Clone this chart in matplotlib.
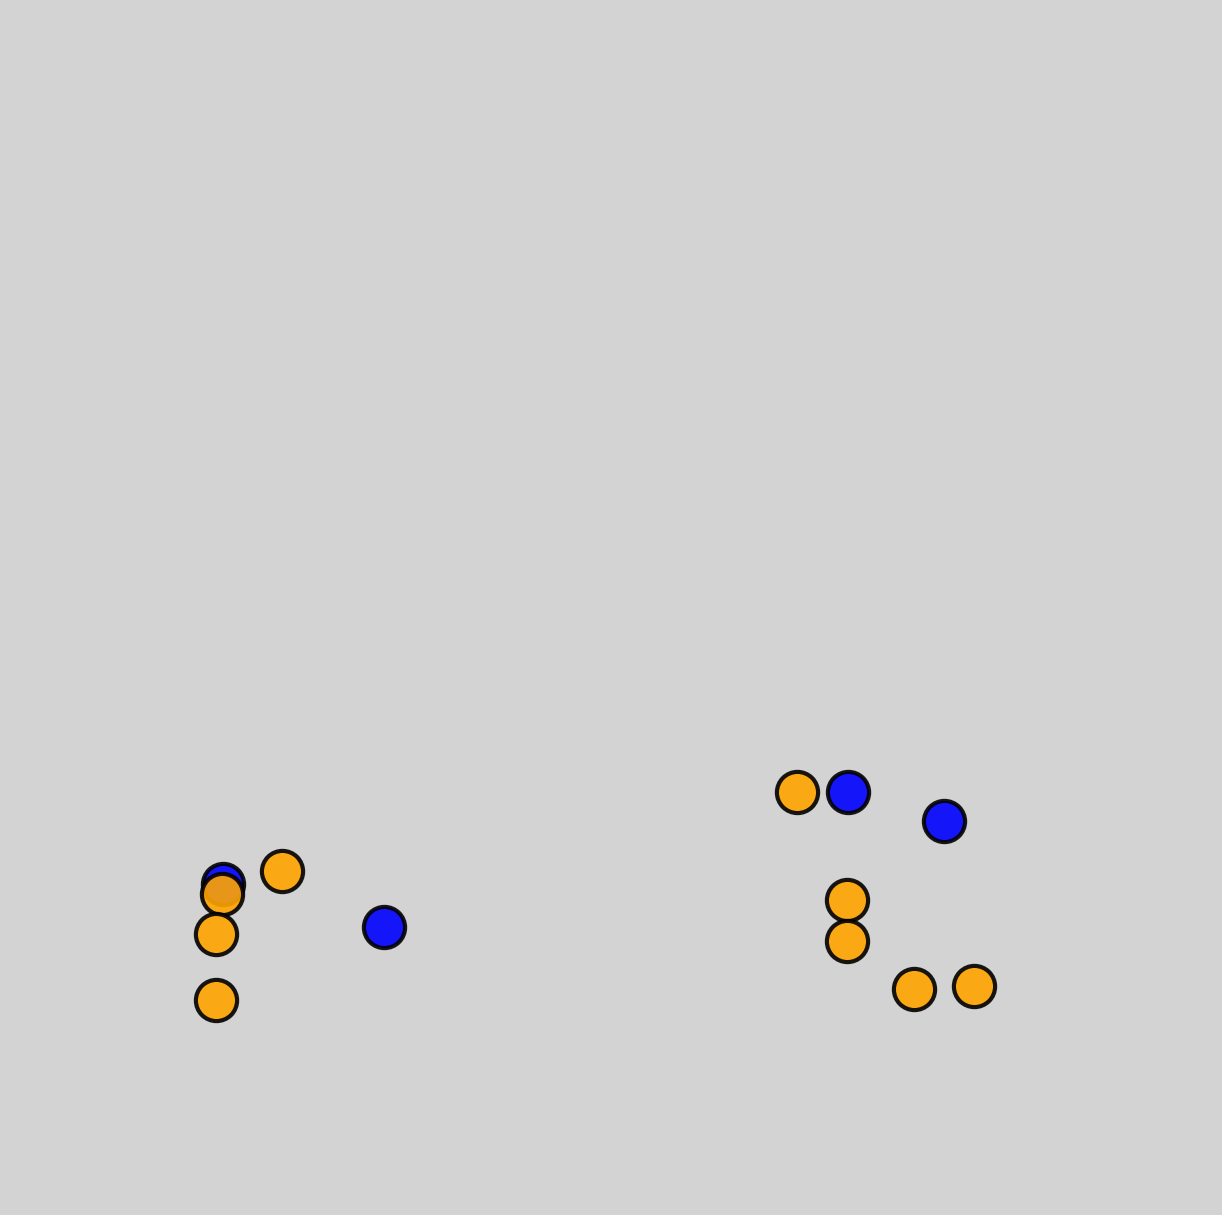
import matplotlib
matplotlib.use('Agg')
import matplotlib.pyplot as plt

# point positions (x to the right, y downward)
blue_x = [223, 384, 848, 944]
blue_y = [884, 927, 792, 821]

orange_x = [222, 282, 216, 216, 797, 847, 847, 914, 974]
orange_y = [894, 871, 934, 1000, 792, 900, 941, 989, 986]

fig = plt.figure(figsize=(12.22, 12.15), dpi=100, facecolor='lightgrey')
ax = fig.add_axes([0, 0, 1, 1])
ax.set_facecolor('lightgrey')

ax.scatter(blue_x, blue_y, s=880, c='blue', alpha=0.9, edgecolors='black', linewidths=3, zorder=2)
ax.scatter(orange_x, orange_y, s=880, c='orange', alpha=0.9, edgecolors='black', linewidths=3, zorder=3)

ax.set_xlim(0, 1222)
ax.set_ylim(1215, 0)
ax.axis('off')

fig.savefig('out.png', dpi=100, facecolor='lightgrey')
